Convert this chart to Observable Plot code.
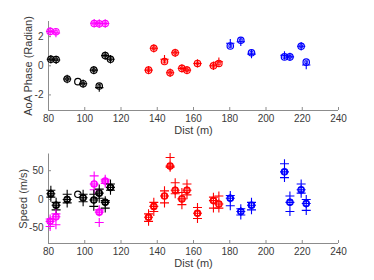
<!DOCTYPE html>
<html><head><meta charset="utf-8">
<script src="https://cdn.jsdelivr.net/npm/d3@7"></script>
<script src="https://cdn.jsdelivr.net/npm/@observablehq/plot@0.6"></script>
<style>
html,body{margin:0;padding:0;background:#fff;}
#chart{width:374px;height:280px;overflow:hidden;}
#chart svg{display:block;}
</style></head><body><div id="chart"></div>
<script>
const dist = [80.9, 84.1, 81.3, 84.2, 90.3, 96.2, 99.1, 105.2, 105.0, 108.0, 108.0, 111.3, 111.3, 114.2, 135.2, 138.1, 144.0, 147.1, 149.9, 153.6, 156.4, 162.2, 171.0, 174.0, 180.3, 186.1, 192.0, 210.2, 213.2, 219.4, 222.2];
const group = ["m","m","k","k","k","k","k","m","k","m","k","m","k","k","r","r","r","r","r","r","r","r","r","r","b","b","b","b","b","b","b"];
const phase = [2.36, 2.34, 0.45, 0.43, -0.91, -1.09, -1.23, 2.9, -0.3, 2.88, -1.39, 2.9, 0.7, 0.45, -0.3, 1.2, 0.29, -0.48, 0.89, -0.18, -0.3, 0.16, 0.0, 0.16, 1.36, 1.75, 0.89, 0.61, 0.61, 1.34, 0.25];
const phasePlus = [2.36, 2.25, 0.45, 0.4, -0.91, null, -1.23, 2.92, -0.3, 2.9, -1.5, 2.9, 0.7, 0.45, -0.3, 1.2, 0.45, -0.48, 0.89, -0.18, -0.3, 0.16, 0.0, 0.28, 1.55, 1.65, 0.8, 0.72, 0.61, 1.34, 0.05];
const speed = [-38, -30, 10, -10, 0, 9, 3, 27, -1, -22, 11, 32, -5, 21, -31, -12, 6, 58, 16, 1, 16, -24, -2, -8, 2, -21, -10, 48, -5, 17, -7];
const speedLo = [-47, -44, 4, -18, -6, null, -4, 17, -12, -40, 2, 28, -15, 16, -38, -21, -6, 56, 10, -9, 8, -33, -15, -15, -11, -27, -18, 38, -21, 11, -19];
const speedHi = [-34, -25, 16, -5, 9, null, 9, 41, 9, -18, 18, 35, -2, 27, -25, -5, 15, 73, 29, 12, 27, -14, 4, 6, 7, -16, -5, 62, 6, 27, 0];
const xTicks = [80, 100, 120, 140, 160, 180, 200, 220, 240];
const phaseTicks = [-2, 0, 2];
const speedTicks = [-50, 0, 50];
const groupColors = {m: "#ff00ff", k: "#000000", r: "#ff0000", b: "#0000ff"};

const rows = dist.map((d, i) => ({dist: d, g: group[i], phase: phase[i], phasePlus: phasePlus[i],
  speed: speed[i], lo: speedLo[i], hi: speedHi[i]}));
const axisColor = "#8c8c8c", textColor = "#3a3a3a";
const xDomain = [80, 240];
const font = {fontFamily: "'Liberation Sans', Arial, sans-serif", fontSize: "10px", background: "#fff"};
const col = d => groupColors[d.g];

function panel({yDomain, yTicks, yLabel, labelDx, marks, marginTop, marginBottom}) {
  return Plot.plot({
    width: 374, height: 140, marginLeft: 48, marginRight: 36, marginTop, marginBottom,
    style: font,
    x: {domain: xDomain},
    y: {domain: yDomain},
    marks: [
      Plot.ruleX([xDomain[0]], {stroke: axisColor, strokeWidth: 1}),
      Plot.ruleY([yDomain[0]], {stroke: axisColor, strokeWidth: 1}),
      Plot.axisX({ticks: xTicks, tickSize: -3, tickPadding: 7, label: null, stroke: axisColor, fill: textColor, tickFormat: d => String(d)}),
      Plot.axisY({ticks: yTicks, tickSize: -3, tickPadding: 8, label: null, stroke: axisColor, fill: textColor, tickFormat: d => String(d)}),
      Plot.text(["Dist (m)"], {frameAnchor: "bottom", dy: 23, text: d => d, fill: textColor, fontSize: 11}),
      Plot.text([yLabel], {frameAnchor: "left", textAnchor: "middle", dx: labelDx, rotate: -90, text: d => d, fill: textColor, fontSize: 11}),
      ...marks
    ]
  });
}

const topPlot = panel({
  yDomain: [-3.07, 3.04], yTicks: phaseTicks, yLabel: "AoA Phase (Radian)", labelDx: -20, marginTop: 21, marginBottom: 30,
  marks: [
    Plot.dot(rows, {x: "dist", y: "phase", r: 3.2, stroke: col, strokeWidth: 1.2, fill: "none"}),
    Plot.dot(rows.filter(d => d.phasePlus != null), {x: "dist", y: "phasePlus", symbol: "plus", r: 2.8, stroke: col, strokeWidth: 1.1}),
    Plot.dot(rows.filter(d => d.phasePlus != null), {x: "dist", y: "phase", symbol: "square2", r: 1.8, stroke: col, strokeWidth: 0.9})
  ]
});

const withSpread = rows.filter(d => d.lo != null);
const bottomPlot = panel({
  yDomain: [-76.5, 79], yTicks: speedTicks, yLabel: "Speed (m/s)", labelDx: -25, marginTop: 13.5, marginBottom: 37,
  marks: [
    Plot.dot(rows, {x: "dist", y: "speed", r: 3.2, stroke: col, strokeWidth: 1.2, fill: "none"}),
    Plot.dot(withSpread, {x: "dist", y: "speed", symbol: "square2", r: 2.8, stroke: col, strokeWidth: 1.1}),
    Plot.dot(withSpread, {x: "dist", y: "speed", symbol: "plus", r: 3, stroke: col, strokeWidth: 1.1}),
    Plot.dot(withSpread, {x: "dist", y: "lo", symbol: "plus", r: 3, stroke: col, strokeWidth: 1.1}),
    Plot.dot(withSpread, {x: "dist", y: "hi", symbol: "plus", r: 3, stroke: col, strokeWidth: 1.1})
  ]
});

const c = document.getElementById("chart");
c.appendChild(topPlot);
c.appendChild(bottomPlot);
</script></body></html>
